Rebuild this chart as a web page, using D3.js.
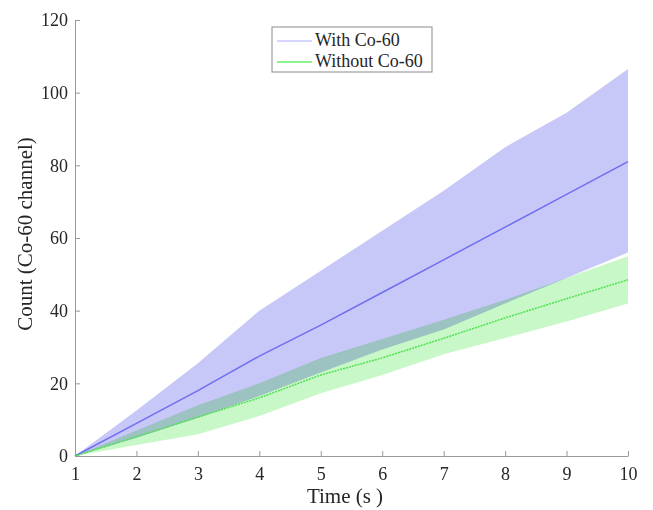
<!DOCTYPE html>
<html>
<head>
<meta charset="utf-8">
<script src="https://cdn.jsdelivr.net/npm/d3@7"></script>
<style>
  body { margin: 0; background: white; }
  text { font-family: "Liberation Serif", "Times New Roman", serif; fill: #262626; }
</style>
</head>
<body>
<div id="holder"></div>
<script>
// time in seconds
var times = [1, 2, 3, 4, 5, 6, 7, 8, 9, 10];
// With Co-60
var withMean = [0, 9, 18, 27.5, 36, 45, 54, 63, 72, 81];
var withUpper = [0, 12.5, 25.5, 40, 51, 62, 73, 85, 94.5, 106.5];
var withLower = [0, 5, 10.5, 16.5, 23, 29.3, 34.8, 42, 49, 56];
// Without Co-60
var withoutMean = [0, 5.3, 10.7, 16, 22.3, 27, 32.4, 38, 43.3, 48.5];
var withoutUpper = [0, 7, 14, 20, 27, 32.2, 37.5, 43, 49, 55];
var withoutLower = [0, 3, 6, 11, 17.3, 22.3, 28, 32.5, 37, 42];

var xTicks = [1, 2, 3, 4, 5, 6, 7, 8, 9, 10];
var yTicks = [0, 20, 40, 60, 80, 100, 120];
var legendNames = ["With Co-60", "Without Co-60"];

var WIDTH = 653, HEIGHT = 510,
    MARGINS = {top: 20, right: 25, bottom: 54, left: 75};

var svg = d3.select("#holder").append("svg")
    .attr("width", WIDTH)
    .attr("height", HEIGHT);

var x = d3.scaleLinear().domain([1, 10]).range([MARGINS.left, WIDTH - MARGINS.right]);
var y = d3.scaleLinear().domain([0, 120]).range([HEIGHT - MARGINS.bottom, MARGINS.top]);

function band(lo, hi) {
  return d3.area()
    .x(function(d, i) { return x(times[i]); })
    .y0(function(d, i) { return y(lo[i]); })
    .y1(function(d, i) { return y(hi[i]); })(times);
}
function line(vals) {
  return d3.line()
    .x(function(d, i) { return x(times[i]); })
    .y(function(d, i) { return y(vals[i]); })(times);
}

// shaded ranges
svg.append("path")
    .attr("d", band(withoutLower, withoutUpper))
    .attr("fill", "#c8f8c8")
    .style("mix-blend-mode", "multiply");
svg.append("path")
    .attr("d", band(withLower, withUpper))
    .attr("fill", "#c8c8f8")
    .style("mix-blend-mode", "multiply");

// mean lines
svg.append("path")
    .attr("d", line(withMean))
    .attr("fill", "none")
    .attr("stroke", "#6e6ef2")
    .attr("stroke-width", 1.5);
svg.append("path")
    .attr("d", line(withoutMean))
    .attr("fill", "none")
    .attr("stroke", "#4fe04f")
    .attr("stroke-width", 1.5)
    .attr("stroke-dasharray", "2,1");

// x axis
var gx = svg.append("g")
    .attr("transform", "translate(0," + y(0) + ")")
    .call(d3.axisBottom(x).tickValues(xTicks).tickSizeInner(-5).tickSizeOuter(0).tickPadding(11));
// y axis
var gy = svg.append("g")
    .attr("transform", "translate(" + x(1) + ",0)")
    .call(d3.axisLeft(y).tickValues(yTicks).tickSizeInner(-5).tickSizeOuter(0).tickPadding(7));
[gx, gy].forEach(function(g) {
  g.select(".domain").attr("stroke", "#9a9a9a");
  g.selectAll(".tick line").attr("stroke", "#9a9a9a");
  g.selectAll(".tick text")
    .style("font-family", '"Liberation Serif", serif')
    .style("font-size", "18px")
    .attr("fill", "#333");
});

// axis titles
svg.append("text")
    .attr("x", 345)
    .attr("y", 503)
    .attr("text-anchor", "middle")
    .style("font-size", "21px")
    .text("Time (s )");
svg.append("text")
    .attr("transform", "translate(32,234) rotate(-90)")
    .attr("text-anchor", "middle")
    .style("font-size", "21px")
    .text("Count (Co-60 channel)");

// legend
var lg = svg.append("g").attr("transform", "translate(272,27)");
lg.append("rect")
    .attr("width", 160).attr("height", 45)
    .attr("fill", "white")
    .attr("stroke", "#8a8a8a");
var legendColors = ["#c8c8ff", "#66ee66"];
legendNames.forEach(function(name, i) {
  lg.append("line")
      .attr("x1", 5).attr("x2", 40)
      .attr("y1", 14 + i * 21).attr("y2", 14 + i * 21)
      .attr("stroke", legendColors[i])
      .attr("stroke-width", 1.5);
  lg.append("text")
      .attr("x", 43).attr("y", 19 + i * 21)
      .style("font-size", "18px")
      .text(name);
});
</script>
</body>
</html>
